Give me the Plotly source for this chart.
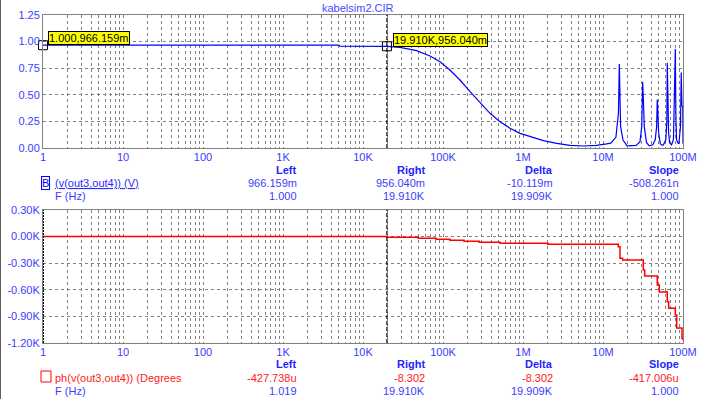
import plotly.graph_objects as go

# ---------------- data ----------------
mag_freq = [1, 5000, 5100, 19910, 29000, 46900, 68800, 91700, 122000, 163000, 218000,
            290000, 387000, 516000, 688000, 917000, 1.22e6, 1.80e6, 2.64e6, 3.87e6,
            5.68e6, 8.3e6, 11.1e6,
            12.5e6, 14.5e6, 15.6e6, 16.0e6, 16.3e6, 16.6e6, 17.8e6, 20e6,
            26e6, 29e6, 30.5e6, 31.3e6, 32.0e6, 32.8e6, 35e6, 38e6,
            42e6, 45e6, 46.8e6, 47.7e6, 48.6e6, 49.5e6, 52e6, 55e6,
            57e6, 61e6, 62.8e6, 63.6e6, 65.0e6, 66e6, 68e6,
            72e6, 76e6, 78.7e6, 80.2e6, 81.5e6, 83e6,
            86e6, 88.8e6, 93e6, 95.1e6, 97e6, 99.5e6, 100e6]
mag_val = [0.966, 0.966, 0.958, 0.956, 0.946, 0.915, 0.865, 0.811, 0.733, 0.639, 0.529,
           0.426, 0.326, 0.247, 0.185, 0.138, 0.106, 0.069, 0.044, 0.025,
           0.019, 0.025, 0.038,
           0.045, 0.10, 0.33, 0.79, 0.545, 0.20, 0.075, 0.02,
           0.025, 0.06, 0.20, 0.62, 0.45, 0.20, 0.05, 0.02,
           0.03, 0.08, 0.20, 0.455, 0.32, 0.15, 0.04, 0.025,
           0.03, 0.08, 0.25, 0.80, 0.44, 0.15, 0.05,
           0.03, 0.08, 0.51, 0.93, 0.30, 0.08,
           0.05, 0.04, 0.20, 0.71, 0.40, 0.38, 0.04]

ph_freq = [1, 19910, 49100, 81800, 122000, 183000, 284000, 516000, 2.04e6,
           15.5e6, 16.3e6, 17.6e6, 31.9e6, 33.2e6, 47.7e6, 50.6e6, 63.6e6, 66.2e6,
           80.2e6, 83.4e6, 97.2e6, 100e6]
ph_deg = [0, -8.3, -19, -30, -42, -53, -64, -76, -87,
          -114, -245, -264, -377, -444, -546, -625, -734, -809,
          -884, -1032, -1147, -1170]

cursor_freq = [1.0, 19910]
cursor_mag = [0.966159, 0.956040]

x_tick_labels = ["1", "10", "100", "1K", "10K", "100K", "1M", "10M", "100M"]
mag_ticks = [0, 0.25, 0.5, 0.75, 1.0, 1.25]
mag_tick_labels = ["0.00", "0.25", "0.50", "0.75", "1.00", "1.25"]
ph_ticks = [-1200, -900, -600, -300, 0, 300]
ph_tick_labels = ["-1.20K", "-0.90K", "-0.60K", "-0.30K", "0.00K", "0.30K"]

# ---------------- layout helpers ----------------
W, H = 708, 399
def px(x):
    return x / W
def py(y):
    return 1 - y / H

FONT = "Liberation Sans, Arial, sans-serif"
BLUE = "#3c3cff"
HBLUE = "#2424ff"
RED = "#ff2020"
GRID = "#808080"

xvals, xtext = [], []
for d in range(9):
    for m in range(1, 10):
        v = m * 10 ** d
        if v > 1e8:
            break
        xvals.append(v)
        xtext.append(x_tick_labels[d] if m == 1 else "")

fig = go.Figure()

fig.add_trace(go.Scatter(x=mag_freq, y=mag_val, mode="lines",
                         line=dict(color="#0000ff", width=1.2), xaxis="x", yaxis="y",
                         showlegend=False, hoverinfo="skip"))
fig.add_trace(go.Scatter(x=ph_freq, y=ph_deg, mode="lines", line_shape="hv",
                         line=dict(color="#ff0000", width=1.5), xaxis="x2", yaxis="y2",
                         showlegend=False, hoverinfo="skip"))

# right cursor lines
fig.add_trace(go.Scatter(x=[cursor_freq[1]] * 2, y=[mag_ticks[0], mag_ticks[-1]], mode="lines",
                         line=dict(color="black", width=1.2, dash="4px,2px"),
                         xaxis="x", yaxis="y", showlegend=False, hoverinfo="skip"))
fig.add_trace(go.Scatter(x=[cursor_freq[1]] * 2, y=[ph_ticks[0], ph_ticks[-1]], mode="lines",
                         line=dict(color="black", width=1.2, dash="4px,2px"),
                         xaxis="x2", yaxis="y2", showlegend=False, hoverinfo="skip"))
# left cursor line on phase plot
fig.add_trace(go.Scatter(x=[cursor_freq[0]] * 2, y=[ph_ticks[0], ph_ticks[-1]], mode="lines",
                         line=dict(color="black", width=2, dash="2px,1px"),
                         xaxis="x2", yaxis="y2", showlegend=False, hoverinfo="skip", cliponaxis=False))
# cursor markers
fig.add_trace(go.Scatter(x=cursor_freq, y=cursor_mag, mode="markers",
                         marker=dict(symbol="square-open", size=9, color="black", line=dict(width=1)),
                         xaxis="x", yaxis="y", showlegend=False, hoverinfo="skip", cliponaxis=False))

axis_common = dict(showline=True, linecolor=GRID, linewidth=1, mirror=True, automargin=False,
                   showgrid=True, gridcolor=GRID, gridwidth=1, griddash="3px,3px",
                   zeroline=False, ticks="", tickfont=dict(family=FONT, size=11, color=BLUE))

fig.update_layout(
    width=W, height=H, autosize=False,
    margin=dict(l=0, r=0, t=0, b=0, autoexpand=False),
    paper_bgcolor="white", plot_bgcolor="white",
    font=dict(family=FONT, size=11),
    xaxis=dict(type="log", range=[0, 8], domain=[px(43), px(683)], anchor="y",
               tickvals=xvals, ticktext=xtext, ticklabelstandoff=-1, **axis_common),
    yaxis=dict(range=[0, 1.25], domain=[py(148), py(15)], anchor="x",
               tickvals=mag_ticks, ticktext=mag_tick_labels, **axis_common),
    xaxis2=dict(type="log", range=[0, 8], domain=[px(43), px(683)], anchor="y2",
                tickvals=xvals, ticktext=xtext, ticklabelstandoff=-1, **axis_common),
    yaxis2=dict(range=[-1200, 300], domain=[py(343), py(210)], anchor="x2",
                tickvals=ph_ticks, ticktext=ph_tick_labels, **axis_common),
)

ann = []
def text(x, y, s, color=BLUE, anchor="right", bold=False, **kw):
    if bold:
        s = "<b>" + s + "</b>"
    ann.append(dict(x=px(x), y=py(y), xref="paper", yref="paper", text=s, showarrow=False,
                    xanchor=anchor, yanchor="middle",
                    font=dict(family=FONT, size=11, color=color), **kw))

# title
text(358, 8, "kabelsim2.CIR", color="#4a4aff", anchor="center")

# cursor value labels
ann.append(dict(x=px(48), y=py(31), xref="paper", yref="paper", text="1.000,966.159m",
                showarrow=False, xanchor="left", yanchor="top", bgcolor="#ffff00",
                bordercolor="black", borderwidth=1, borderpad=0,
                font=dict(family=FONT, size=11, color="black")))
ann.append(dict(x=px(393), y=py(33), xref="paper", yref="paper", text="19.910K,956.040m",
                showarrow=False, xanchor="left", yanchor="top", bgcolor="#ffff00",
                bordercolor="black", borderwidth=1, borderpad=0,
                font=dict(family=FONT, size=11, color="black")))

cols = [299, 427, 555, 681]
heads = ["Left", "Right", "Delta", "Slope"]

# top info block
for c, h in zip(cols, heads):
    text(c, 170, h, color=HBLUE, bold=True)
for c, v in zip(cols, ["966.159m", "956.040m", "-10.119m", "-508.261n"]):
    text(c, 183, v)
for c, v in zip(cols, ["1.000", "19.910K", "19.909K", "1.000"]):
    text(c, 195.5, v)
ann.append(dict(x=px(41), y=py(182.5), xref="paper", yref="paper", text="B", showarrow=False,
                xanchor="left", yanchor="middle", bordercolor="#0000ff", borderwidth=1, borderpad=0,
                font=dict(family=FONT, size=11, color="#0000ff")))
text(53, 183, "<u>(v(out3,out4)) (V)</u>", anchor="left", color="#2a2aff")
text(53, 195.5, "F (Hz)", anchor="left")

# bottom info block
for c, h in zip(cols, heads):
    text(c, 364, h, color=HBLUE, bold=True)
for c, v in zip(cols, ["-427.738u", "-8.302", "-8.302", "-417.006u"]):
    text(c, 377.5, v, color=RED)
for c, v in zip(cols, ["1.019", "19.910K", "19.909K", "1.000"]):
    text(c, 390.5, v)
text(53, 377.5, "ph(v(out3,out4)) (Degrees", anchor="left", color=RED)
text(53, 390.5, "F (Hz)", anchor="left")

fig.update_layout(annotations=ann)

shapes = [
    dict(type="rect", xref="paper", yref="paper", x0=px(41), x1=px(51), y0=py(382), y1=py(371),
         line=dict(color="#ff0000", width=1)),
    dict(type="line", xref="paper", yref="paper", x0=px(0.5), x1=px(0.5), y0=0, y1=1,
         line=dict(color="#606060", width=1)),
]
fig.update_layout(shapes=shapes)

fig.write_html("out.html", config={"displayModeBar": False},
               post_script="document.body.style.margin='0';document.body.style.overflow='hidden';")
